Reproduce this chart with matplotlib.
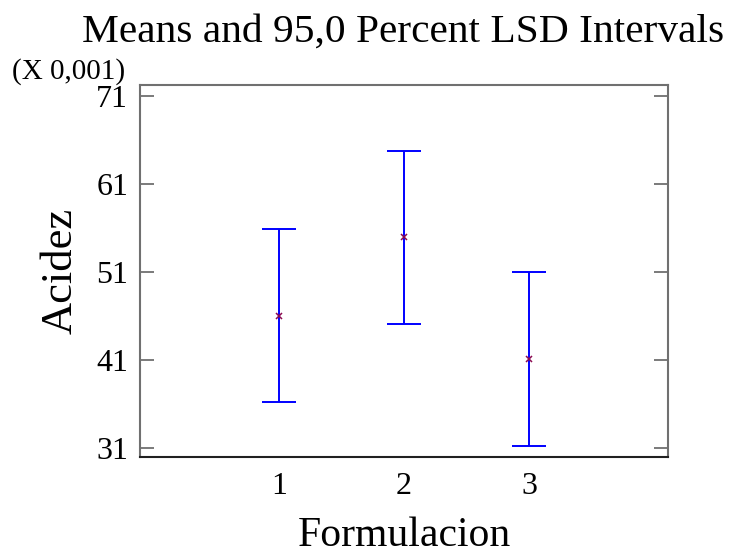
import numpy as np
import matplotlib.pyplot as plt

plt.rcParams['font.family'] = ['Liberation Serif', 'DejaVu Serif']

# Group means and LSD half-widths (in units of 0.001)
groups = [1, 2, 3]
means = [46.0, 54.9, 41.1]
lsd = [9.8, 9.8, 9.9]
yticks = [31, 41, 51, 61, 71]

fig = plt.figure(figsize=(7.34, 5.56), dpi=100)
ax = fig.add_axes([0.1907, 0.178, 0.7193, 0.669])

ax.errorbar(groups, means, yerr=lsd, fmt='none', ecolor='#0000ff',
            elinewidth=1.4, capsize=12.5, capthick=1.4)
ax.plot(groups, means, 'x', color='#8b0a50', markersize=4, mew=1.1)

ax.set_xlim(-0.112, 4.112)
ax.set_ylim(29.94, 72.2)
ax.set_yticks(yticks)
ax.set_xticks(groups)

ax.tick_params(axis='y', direction='in', length=10, width=1.3, color='#707070',
               labelsize=23, pad=8.5, right=True)
ax.tick_params(axis='x', length=0, labelsize=23, pad=11)

for side in ['left', 'right', 'top']:
    ax.spines[side].set_color('#707070')
    ax.spines[side].set_linewidth(1.5)
ax.spines['bottom'].set_color('#202020')
ax.spines['bottom'].set_linewidth(1.5)

ax.set_xlabel('Formulacion', fontsize=30, labelpad=11)
ax.set_ylabel('Acidez', fontsize=32, labelpad=11)
fig.text(0.549, 0.9245, 'Means and 95,0 Percent LSD Intervals',
         fontsize=29.8, ha='center', va='baseline')
fig.text(0.016, 0.858, '(X 0,001)', fontsize=21, ha='left', va='baseline')

fig.savefig('out.png', dpi=100)
